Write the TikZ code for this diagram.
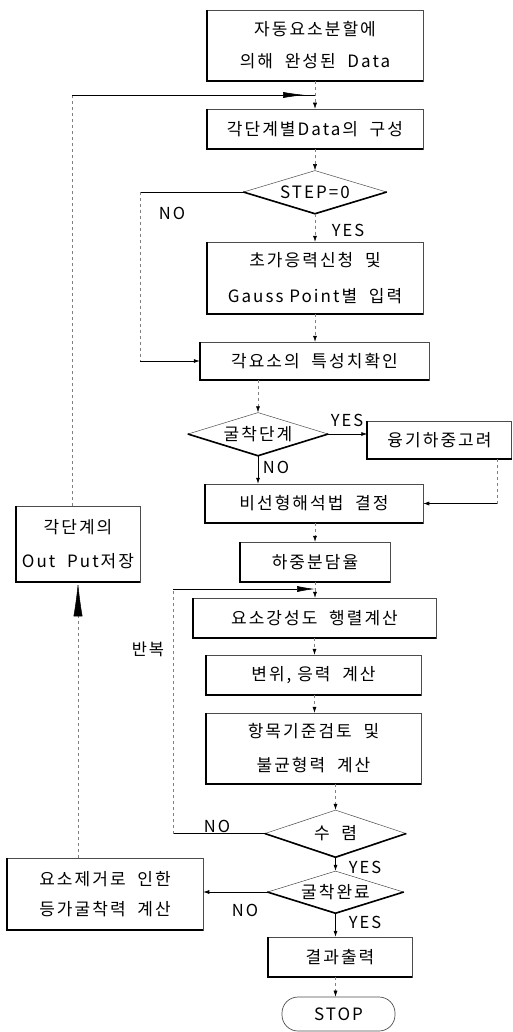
\documentclass[tikz,border=0pt]{standalone}
\usepackage{fontspec}
\setmainfont{Noto Sans CJK KR}[LetterSpace=12]
\usetikzlibrary{arrows.meta,shapes.geometric,decorations.markings}
\begin{document}
\begin{tikzpicture}[x=1pt,y=-1pt,
  every node/.style={font=\fontsize{17}{32}\selectfont},
  box/.style={draw=black!70, line width=0.5pt, inner sep=0pt, align=center},
  dia/.style={shape=diamond, draw=black!70, line width=0.5pt, inner sep=0pt},
  heavy/.style={line width=1.8pt},
  conn/.style={line width=0.6pt},
  faint/.style={draw=black!50, line width=0.5pt, dash pattern=on 3pt off 3pt},
  tip/.style={-{Latex[length=6pt,width=4pt,color=black]}},
  bigtip/.style={-{Latex[length=18pt,width=6pt,color=black]}},
  uptip/.style={-{Latex[length=34pt,width=9pt,color=black]}},
  midbig/.style={postaction={decorate,decoration={markings,
      mark=at position -10pt with {\arrow{Latex[length=22pt,width=6pt]}}}}},
  lbl/.style={font=\fontsize{16.5}{20}\selectfont, inner sep=0pt}
]
\useasboundingbox (0,0) rectangle (512,1032);

% boxes
\node[box, minimum width=216, minimum height=71] (b1) at (315,45.5) {자동요소분할에\\의해 \ 완성된 \ Data};
\node[box, minimum width=216, minimum height=40] (b2) at (315,129) {각단계별Data의 \ 구성};
\node[dia, minimum width=143, minimum height=43, aspect=3.3] (d1) at (315,192) {STEP=0};
\node[box, minimum width=216, minimum height=72, font=\fontsize{17}{36}\selectfont] (b3) at (315,278) {초가응력신청 \ 및\\Gauss Point별 \ 입력};
\node[box, minimum width=229, minimum height=38] (b4) at (314.5,361) {각요소의 \ 특성치확인};
\node[dia, minimum width=140, minimum height=43, aspect=3.26] (d2) at (258,434) {굴착단계};
\node[box, minimum width=144, minimum height=38] (b5) at (439.5,440) {융기하중고려};
\node[box, minimum width=218, minimum height=39] (b6) at (314,503.5) {비선형해석법 \ 결정};
\node[box, minimum width=150, minimum height=40] (b7) at (315,562) {하중분담율};
\node[box, minimum width=243, minimum height=40] (b8) at (314.5,618) {요소강성도 \ 행렬계산};
\node[box, minimum width=215, minimum height=40] (b9) at (313.5,675) {변위, 응력 \ 계산};
\node[box, minimum width=215, minimum height=71, font=\fontsize{17}{34}\selectfont] (b10) at (313.5,748.5) {항목기준검토 \ 및\\불균형력 \ 계산};
\node[dia, minimum width=141, minimum height=47, aspect=3] (d3) at (335.5,833.5) {수 \ 렴};
\node[dia, minimum width=136, minimum height=42, aspect=3.24] (d4) at (335.5,892) {굴착완료};
\node[box, minimum width=196, minimum height=72, font=\fontsize{17}{30}\selectfont] (b11) at (105,894) {요소제거로 \ 인한\\등가굴착력 \ 계산};
\node[box, minimum width=144, minimum height=40] (b12) at (340,957) {결과출력};
\node[draw=black!70, line width=0.7pt, rounded corners=16pt, minimum width=113, minimum height=34, inner sep=0pt] (stop) at (338.5,1014) {STOP};
\node[box, minimum width=124, minimum height=76, font=\fontsize{17}{34}\selectfont] (outbox) at (78,544) {각단계의\\Out \ Put저장};

% heavy left/bottom edges
\foreach \n in {b1,b2,b3,b4,b5,b6,b7,b8,b9,b10,b11,b12,outbox}
  \draw[heavy] (\n.north west) -- (\n.south west) -- (\n.south east);
\foreach \n in {d1,d2,d3,d4}
  \draw[line width=1.6pt] (\n.west) -- (\n.south) -- (\n.east);

% coordinates
\coordinate (j1) at (315,95);
\coordinate (lx) at (72,95);
\coordinate (n1) at (140,192);
\coordinate (n2) at (497,503.5);
\coordinate (j2) at (315,589);
\coordinate (lp) at (173,589);

% connectors
\draw[faint, tip] (b1.south) -- (b2.north);
\draw[faint] (lx |- outbox.north) -- (lx);
\draw[conn, midbig] (lx) -- (j1);
\draw[faint, tip] (b2.south) -- (d1.north);
\draw[faint, tip] (d1.south) -- (b3.north);
\draw[conn] (d1.west) -- (n1);
\draw[faint] (n1) -- (n1 |- b4.west);
\draw[conn, tip] (n1 |- b4.west) -- (b4.west);
\draw[faint, tip] (b3.south) -- (b3.south |- b4.north);
\draw[faint, tip] (d2.north |- b4.south) -- (d2.north);
\draw[conn, tip] (d2.east) -- (d2.east -| b5.west);
\draw[conn, tip] (d2.south) -- (d2.south |- b6.north);
\draw[faint] (n2 |- b5.south) -- (n2);
\draw[conn, tip] (n2) -- (b6.east);
\draw[faint, tip] (b6.south -| b7.north) -- (b7.north);
\draw[faint] (b7.south) -- (j2);
\draw[faint, tip] (j2) -- (j2 |- b8.north);
\draw[faint, tip] (b8.south) -- (b8.south |- b9.north);
\draw[faint, tip] (b8.south |- b9.south) -- (b8.south |- b10.north);
\draw[faint, tip] (d3.north |- b10.south) -- (d3.north);
\draw[conn] (d3.west) -- (d3.west -| lp);
\draw[faint] (d3.west -| lp) -- (lp);
\draw[conn, bigtip] (lp) -- (j2);
\draw[conn, tip] (d3.south) -- (d4.north);
\draw[conn, tip] (d4.west) -- (d4.west -| b11.east);
\draw[conn, tip] (d4.south) -- (d4.south |- b12.north);
\draw[faint, tip] (d4.south |- b12.south) -- (d4.south |- stop.north);
\draw[faint, uptip] (outbox.south |- b11.north) -- (outbox.south);

% labels
\node[lbl] (l1) at (172,213) {NO};
\node[lbl] (l2) at (348,230) {YES};
\node[lbl] (l3) at (347,420) {YES};
\node[lbl] (l4) at (276,467) {NO};
\node[lbl] (l5) at (148,649) {반복};
\node[lbl] (l6) at (217,826) {NO};
\node[lbl] (l7) at (365,867) {YES};
\node[lbl] (l8) at (245,910) {NO};
\node[lbl] (l9) at (365,922) {YES};
\end{tikzpicture}
\end{document}
